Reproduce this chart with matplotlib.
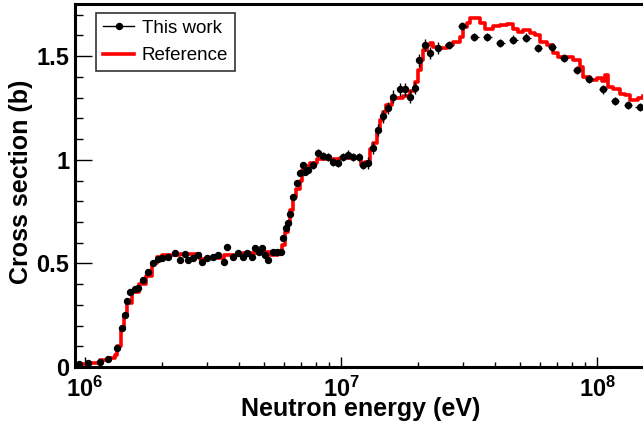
import numpy as np
import matplotlib
matplotlib.use("Agg")
import matplotlib.pyplot as plt
from matplotlib.lines import Line2D
from matplotlib.ticker import LogLocator, FixedLocator, FuncFormatter, NullFormatter

plt.rcParams['font.family'] = ['Liberation Sans', 'DejaVu Sans']
plt.rcParams['mathtext.fontset'] = 'custom'
plt.rcParams['mathtext.rm'] = 'Liberation Sans:bold'
plt.rcParams['mathtext.bf'] = 'Liberation Sans:bold'
plt.rcParams['mathtext.it'] = 'Liberation Sans:bold'

# Reference evaluation (step curve), energy in MeV, cross section in b
ref_e = [0.91, 1.05, 1.14, 1.25, 1.31, 1.33, 1.38, 1.42, 1.46, 1.53, 1.62, 1.73,
         1.83, 1.91, 2.0, 2.35, 2.81, 3.0, 3.5, 4.14, 4.83, 5.28, 5.67, 5.88,
         6.04, 6.21, 6.32, 6.49, 6.67, 6.91, 7.04, 7.23, 7.57, 8.06, 9.9, 11.55,
         11.97, 12.4, 12.98, 13.34, 13.83, 14.2, 14.59, 14.99, 15.82, 17.47, 18.6,
         19.46, 20.0, 20.54, 20.9, 21.67, 22.27, 22.87, 23.9, 25.9, 27.4, 29.2,
         30.0, 31.06, 31.9, 33.4, 34.9, 36.5, 38.2, 39.3, 41.8, 44.5, 47.0, 49.1,
         51.4, 54.7, 57.3, 59.9, 63.8, 67.3, 70.4, 76.3, 80.6, 85.9, 88.2, 93.9,
         100.0, 104.7, 107.5, 110.4, 115.5, 123.0, 128.6, 134.6, 138.3, 144.6, 151.0]
ref_xs = [0.015, 0.02, 0.035, 0.045, 0.06, 0.10, 0.19, 0.25, 0.31, 0.36, 0.40, 0.44,
          0.50, 0.53, 0.54, 0.545, 0.52, 0.525, 0.54, 0.55, 0.555, 0.54, 0.55, 0.59,
          0.65, 0.70, 0.76, 0.82, 0.86, 0.90, 0.95, 0.97, 0.985, 1.005, 1.01, 1.01,
          0.975, 0.99, 1.05, 1.08, 1.14, 1.19, 1.23, 1.265, 1.30, 1.31, 1.33,
          1.375, 1.435, 1.48, 1.53, 1.555, 1.565, 1.545, 1.54, 1.555, 1.57, 1.595,
          1.64, 1.66, 1.685, 1.685, 1.66, 1.63, 1.63, 1.645, 1.65, 1.655, 1.63, 1.615,
          1.625, 1.61, 1.60, 1.57, 1.555, 1.515, 1.495, 1.495, 1.48, 1.45, 1.40, 1.385,
          1.395, 1.38, 1.41, 1.35, 1.34, 1.32, 1.315, 1.29, 1.29, 1.30, 1.31]

# This work, energy in MeV
data_e = [0.95, 1.03, 1.14, 1.23, 1.33, 1.39, 1.43, 1.46, 1.50, 1.57, 1.61, 1.69,
          1.76, 1.84, 1.93, 2.0, 2.1, 2.25, 2.35, 2.46, 2.52, 2.64, 2.75, 2.86,
          3.0, 3.15, 3.3, 3.5, 3.6, 3.8, 3.96, 4.14, 4.3, 4.5, 4.6, 4.8, 4.9, 5.05,
          5.2, 5.4, 5.6, 5.8, 5.95, 6.1, 6.2, 6.3, 6.5, 6.7, 6.9, 7.1, 7.25, 7.4,
          7.78, 8.13, 8.5, 8.9, 9.3, 9.7, 10.2, 10.6, 11.1, 11.7, 12.2, 12.7, 13.3,
          13.9, 14.6, 15.3, 16.0, 17.0, 17.8, 18.6, 19.5, 20.2, 21.3, 22.3, 23.9,
          26.4, 29.7, 33.1, 37.2, 41.8, 47.0, 52.8, 58.8, 66.7, 74.3, 83.5, 93.0,
          105.5, 117.5, 132.0, 147.0]
data_xs = [0.015, 0.02, 0.025, 0.04, 0.09, 0.19, 0.25, 0.32, 0.36, 0.375, 0.38, 0.42,
           0.46, 0.50, 0.52, 0.525, 0.53, 0.55, 0.515, 0.545, 0.515, 0.525, 0.54, 0.505,
           0.525, 0.53, 0.54, 0.505, 0.58, 0.53, 0.55, 0.53, 0.55, 0.53, 0.575, 0.555,
           0.575, 0.54, 0.515, 0.555, 0.555, 0.555, 0.625, 0.67, 0.695, 0.74, 0.82, 0.89,
           0.935, 0.975, 0.94, 0.95, 0.975, 1.032, 1.02, 1.015, 0.99, 0.985, 1.015, 1.025,
           1.015, 1.015, 0.975, 0.985, 1.057, 1.145, 1.21, 1.25, 1.305, 1.34, 1.34, 1.305,
           1.347, 1.48, 1.555, 1.515, 1.54, 1.555, 1.645, 1.594, 1.594, 1.565, 1.58, 1.59,
           1.54, 1.545, 1.49, 1.435, 1.39, 1.34, 1.285, 1.265, 1.255]
data_xs_err = [0.01] * 52 + [0.02] * 11 + [0.03] * 14 + [0.02] * 16
data_e_rel = [0.01] * 62 + [0.015] * 15 + [0.04] * 16

e_ref = np.array(ref_e) * 1e6
e_dat = np.array(data_e) * 1e6
xerr = e_dat * np.array(data_e_rel)

fig = plt.figure(figsize=(6.43, 4.29), dpi=100)
ax = fig.add_axes([75 / 643, 1 - 367 / 429, 1 - 75 / 643, (367 - 4) / 429])

ax.errorbar(e_dat, data_xs, xerr=xerr, yerr=data_xs_err, fmt='o', color='black',
            markersize=4.3, elinewidth=1.0, capsize=0, zorder=3)
ax.plot(e_ref, ref_xs, drawstyle='steps-post', color='#ff0000', lw=2.6, zorder=2)

ax.set_xscale('log')
ax.set_xlim(0.914e6, 1.51e8)
ax.set_ylim(0, 1.752)

ax.xaxis.set_major_locator(FixedLocator([1e6, 1e7, 1e8]))
ax.xaxis.set_major_formatter(FuncFormatter(lambda v, p: r'$10^{%d}$' % round(np.log10(v))))
ax.xaxis.set_minor_locator(LogLocator(base=10, subs=np.arange(2, 10)))
ax.xaxis.set_minor_formatter(NullFormatter())
ax.yaxis.set_major_locator(FixedLocator([0, 0.5, 1.0, 1.5]))
ax.yaxis.set_major_formatter(FuncFormatter(lambda v, p: '%g' % v))
ax.yaxis.set_minor_locator(FixedLocator(np.arange(0, 1.8, 0.1)))

ax.tick_params(axis='both', which='both', direction='in', top=False, right=False, width=1.0)
ax.tick_params(axis='y', which='major', length=12, pad=4, labelsize=17)
ax.tick_params(axis='y', which='minor', length=6)
ax.tick_params(axis='x', which='major', length=7, pad=7, labelsize=17)
ax.tick_params(axis='x', which='minor', length=3.6)
for lab in ax.get_yticklabels():
    lab.set_fontweight('bold')

for side in ['left', 'bottom', 'top']:
    ax.spines[side].set_linewidth(2.2)
ax.spines['right'].set_visible(False)

ax.set_xlabel('Neutron energy (eV)', fontsize=18, fontweight='bold')
ax.xaxis.set_label_coords((361 - 75) / 568, -(397 - 367) / 363)
ax.set_ylabel('Cross section (b)', fontsize=18, fontweight='bold')
ax.yaxis.set_label_coords(-(75 - 33) / 568, (367 - 182) / 363)

handles = [Line2D([], [], color='black', lw=1.0, marker='o', markersize=4.3),
           Line2D([], [], color='#ff0000', lw=2.6)]
leg = ax.legend(handles, ['This work', 'Reference'], loc='upper left',
                bbox_to_anchor=(96 / 643, 1 - 13 / 429), bbox_transform=fig.transFigure,
                fontsize=13.5, frameon=True, fancybox=False, handlelength=1.7,
                handletextpad=0.4, borderpad=0.35, labelspacing=0.55, borderaxespad=0)
leg.get_frame().set_edgecolor('black')
leg.get_frame().set_linewidth(1.2)

fig.savefig('out.png', dpi=100)
